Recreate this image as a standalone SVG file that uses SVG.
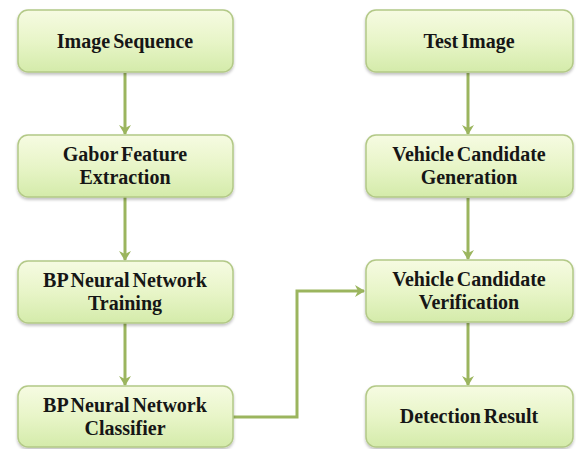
<svg xmlns="http://www.w3.org/2000/svg" width="576" height="449" viewBox="0 0 576 449">
  <defs>
    <linearGradient id="boxFill" x1="0" y1="0" x2="0" y2="1">
      <stop offset="0" stop-color="#f6fbe2"/>
      <stop offset="0.5" stop-color="#e8f5c8"/>
      <stop offset="1" stop-color="#d4ebaa"/>
    </linearGradient>
    <filter id="shadow" x="-10%" y="-10%" width="120%" height="130%">
      <feGaussianBlur in="SourceAlpha" stdDeviation="1.5"/>
      <feOffset dx="0" dy="2" result="b"/>
      <feComponentTransfer><feFuncA type="linear" slope="0.25"/></feComponentTransfer>
      <feMerge><feMergeNode/><feMergeNode in="SourceGraphic"/></feMerge>
    </filter>
    <marker id="arrow" markerWidth="12" markerHeight="12" refX="9" refY="6" orient="auto" markerUnits="userSpaceOnUse">
      <path d="M0,0 L10,6 L0,12 L3,6 Z" fill="#9bb55e"/>
    </marker>
  </defs>
  <style>
    .box { fill: url(#boxFill); stroke: #b3c987; stroke-width: 1.5; filter: url(#shadow); }
    .link { fill: none; stroke: #9bb55e; stroke-width: 3; marker-end: url(#arrow); }
  </style>
  <rect width="576" height="449" fill="#ffffff"/>

  <g id="connectors">
    <line class="link" x1="125" y1="73" x2="125" y2="134"/>
    <line class="link" x1="125" y1="197" x2="125" y2="260"/>
    <line class="link" x1="125" y1="323" x2="125" y2="385"/>
    <line class="link" x1="468" y1="73" x2="468" y2="134"/>
    <line class="link" x1="468" y1="198" x2="468" y2="259"/>
    <line class="link" x1="468" y1="323" x2="468" y2="385"/>
    <polyline class="link" points="233,417 297,417 297,291 364,291"/>
  </g>

  <g font-family="Liberation Serif, Times New Roman, serif" font-weight="bold" font-size="20" fill="#161616" text-anchor="middle" word-spacing="-2">
    <g id="image-sequence">
      <rect class="box" x="18" y="10" width="215" height="62" rx="10"/>
      <text x="125" y="48">Image Sequence</text>
    </g>
    <g id="gabor-feature-extraction">
      <rect class="box" x="18" y="135" width="215" height="62" rx="10"/>
      <text x="125" y="161">Gabor Feature</text>
      <text x="125" y="184">Extraction</text>
    </g>
    <g id="bp-training">
      <rect class="box" x="18" y="261" width="215" height="62" rx="10"/>
      <text x="125" y="287">BP Neural Network</text>
      <text x="125" y="310">Training</text>
    </g>
    <g id="bp-classifier">
      <rect class="box" x="18" y="386" width="215" height="61" rx="10"/>
      <text x="125" y="412">BP Neural Network</text>
      <text x="125" y="435">Classifier</text>
    </g>

    <g id="test-image">
      <rect class="box" x="366" y="10" width="207" height="62" rx="10"/>
      <text x="469" y="48">Test Image</text>
    </g>
    <g id="candidate-generation">
      <rect class="box" x="366" y="135" width="207" height="62" rx="10"/>
      <text x="469" y="161">Vehicle Candidate</text>
      <text x="469" y="184">Generation</text>
    </g>
    <g id="candidate-verification">
      <rect class="box" x="366" y="260" width="207" height="62" rx="10"/>
      <text x="469" y="286">Vehicle Candidate</text>
      <text x="469" y="309">Verification</text>
    </g>
    <g id="detection-result">
      <rect class="box" x="366" y="386" width="207" height="61" rx="10"/>
      <text x="469" y="423">Detection Result</text>
    </g>
  </g>
</svg>
